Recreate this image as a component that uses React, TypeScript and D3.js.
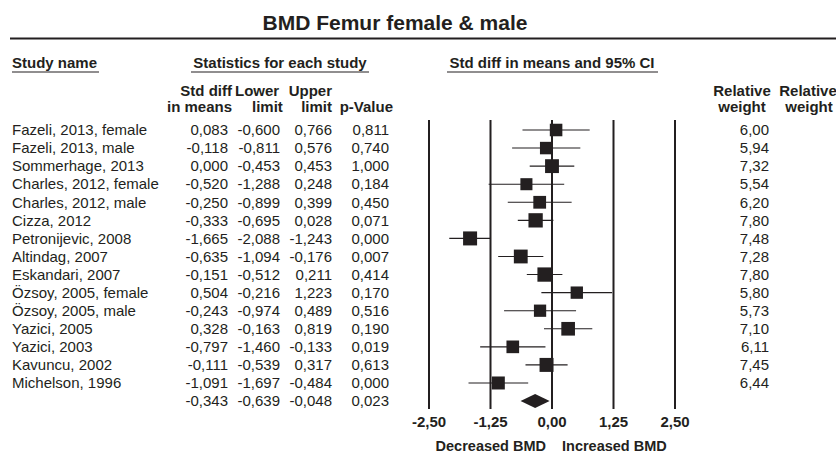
import React from "react";
import * as d3 from "d3";

const STUDIES = [
  "Fazeli, 2013, female",
  "Fazeli, 2013, male",
  "Sommerhage, 2013",
  "Charles, 2012, female",
  "Charles, 2012, male",
  "Cizza, 2012",
  "Petronijevic, 2008",
  "Altindag, 2007",
  "Eskandari, 2007",
  "Özsoy, 2005, female",
  "Özsoy, 2005, male",
  "Yazici, 2005",
  "Yazici, 2003",
  "Kavuncu, 2002",
  "Michelson, 1996",
];
const SMD = [0.083, -0.118, 0.0, -0.52, -0.25, -0.333, -1.665, -0.635, -0.151, 0.504, -0.243, 0.328, -0.797, -0.111, -1.091];
const LOWER = [-0.6, -0.811, -0.453, -1.288, -0.899, -0.695, -2.088, -1.094, -0.512, -0.216, -0.974, -0.163, -1.46, -0.539, -1.697];
const UPPER = [0.766, 0.576, 0.453, 0.248, 0.399, 0.028, -1.243, -0.176, 0.211, 1.223, 0.489, 0.819, -0.133, 0.317, -0.484];
const P_VALUES = [0.811, 0.74, 1.0, 0.184, 0.45, 0.071, 0.0, 0.007, 0.414, 0.17, 0.516, 0.19, 0.019, 0.613, 0.0];
const WEIGHTS = [6.0, 5.94, 7.32, 5.54, 6.2, 7.8, 7.48, 7.28, 7.8, 5.8, 5.73, 7.1, 6.11, 7.45, 6.44];
const SUMMARY = { smd: -0.343, lower: -0.639, upper: -0.048, p: 0.023 };
const TICKS = [-2.5, -1.25, 0, 1.25, 2.5];

const INK = "#231f20";
const FONT = "Arial, 'Liberation Sans', Helvetica, sans-serif";

const locale = d3.formatLocale({
  decimal: ",",
  thousands: ".",
  grouping: [3],
  currency: ["", ""],
  minus: "-",
});
const f3 = locale.format(".3f");
const f2 = locale.format(".2f");

export default function App() {
  const width = 836;
  const height = 461;

  const x = d3.scaleLinear().domain([-2.5, 2.5]).range([429, 675]);
  const y = d3.scaleLinear().domain([0, STUDIES.length]).range([130, 130 + 18.07 * STUDIES.length]);
  const side = d3.scaleSqrt().domain([0, 7.8]).range([0, 14.3]);

  const plotTop = 120;
  const plotBottom = 409;

  const rows = STUDIES.map((name, i) => ({
    name,
    smd: SMD[i],
    lower: LOWER[i],
    upper: UPPER[i],
    p: P_VALUES[i],
    w: WEIGHTS[i],
  }));

  const txt = { fontFamily: FONT, fill: INK } as const;
  const sy = y(STUDIES.length);
  const diamond = d3.line()([
    [x(SUMMARY.lower), sy],
    [x(SUMMARY.smd), sy - 7],
    [x(SUMMARY.upper), sy],
    [x(SUMMARY.smd), sy + 7],
  ]) + "Z";

  return (
    <svg width={width} height={height} style={{ position: "absolute", left: 0, top: 0 }}>
      <rect width={width} height={height} fill="#fff" />
      {/* title */}
      <text x={395} y={23} dy=".35em" textAnchor="middle" fontSize={21} fontWeight="bold" {...txt}>
        BMD Femur female &amp; male
      </text>
      <line x1={10} x2={836} y1={38.5} y2={38.5} stroke={INK} strokeWidth={2} />

      {/* section headers */}
      <g fontSize={15} fontWeight="bold" {...txt}>
        <text x={12} y={63} dy=".35em">Study name</text>
        <line x1={12} x2={99} y1={72} y2={72} stroke={INK} strokeWidth={1.2} />
        <text x={280} y={63} dy=".35em" textAnchor="middle">Statistics for each study</text>
        <line x1={191} x2={369} y1={72} y2={72} stroke={INK} strokeWidth={1.2} />
        <text x={552} y={63} dy=".35em" textAnchor="middle">Std diff in means and 95% CI</text>
        <line x1={447} x2={658} y1={72} y2={72} stroke={INK} strokeWidth={1.2} />
      </g>

      {/* column headers */}
      <g fontSize={15} fontWeight="bold" {...txt}>
        <text x={232} y={91} dy=".35em" textAnchor="end">Std diff</text>
        <text x={232} y={107} dy=".35em" textAnchor="end">in means</text>
        <text x={235} y={91} dy=".35em">Lower</text>
        <text x={252} y={107} dy=".35em">limit</text>
        <text x={332} y={91} dy=".35em" textAnchor="end">Upper</text>
        <text x={332} y={107} dy=".35em" textAnchor="end">limit</text>
        <text x={393} y={107} dy=".35em" textAnchor="end">p-Value</text>
        <text x={742} y={91} dy=".35em" textAnchor="middle">Relative</text>
        <text x={742} y={107} dy=".35em" textAnchor="middle">weight</text>
        <text x={808} y={91} dy=".35em" textAnchor="middle">Relative</text>
        <text x={809} y={107} dy=".35em" textAnchor="middle">weight</text>
      </g>

      {/* table rows */}
      <g fontSize={15} {...txt}>
        {rows.map((r, i) => (
          <g key={r.name}>
            <text x={12} y={y(i)} dy=".35em">{r.name}</text>
            <text x={228} y={y(i)} dy=".35em" textAnchor="end">{f3(r.smd)}</text>
            <text x={280} y={y(i)} dy=".35em" textAnchor="end">{f3(r.lower)}</text>
            <text x={332} y={y(i)} dy=".35em" textAnchor="end">{f3(r.upper)}</text>
            <text x={389} y={y(i)} dy=".35em" textAnchor="end">{f3(r.p)}</text>
            <text x={769} y={y(i)} dy=".35em" textAnchor="end">{f2(r.w)}</text>
          </g>
        ))}
        <text x={228} y={sy} dy=".35em" textAnchor="end">{f3(SUMMARY.smd)}</text>
        <text x={280} y={sy} dy=".35em" textAnchor="end">{f3(SUMMARY.lower)}</text>
        <text x={332} y={sy} dy=".35em" textAnchor="end">{f3(SUMMARY.upper)}</text>
        <text x={389} y={sy} dy=".35em" textAnchor="end">{f3(SUMMARY.p)}</text>
      </g>

      {/* reference lines */}
      {TICKS.map((t) => (
        <line key={t} x1={x(t)} x2={x(t)} y1={plotTop} y2={plotBottom} stroke={INK} strokeWidth={2} />
      ))}

      {/* CIs and squares */}
      {rows.map((r, i) => {
        const s = side(r.w);
        return (
          <g key={r.name}>
            <line x1={x(r.lower)} x2={x(r.upper)} y1={y(i)} y2={y(i)} stroke={INK} strokeWidth={1.1} />
            <rect x={x(r.smd) - s / 2} y={y(i) - s / 2} width={s} height={s} fill={INK} />
          </g>
        );
      })}
      <path d={diamond} fill={INK} />

      {/* axis labels */}
      <g fontSize={15} fontWeight="bold" {...txt}>
        {TICKS.map((t) => (
          <text key={t} x={x(t)} y={422} dy=".35em" textAnchor="middle">{f2(t)}</text>
        ))}
      </g>
      <g fontSize={14.5} fontWeight="bold" {...txt}>
        <text x={546} y={446} dy=".35em" textAnchor="end">Decreased BMD</text>
        <text x={562} y={446} dy=".35em">Increased BMD</text>
      </g>
    </svg>
  );
}
